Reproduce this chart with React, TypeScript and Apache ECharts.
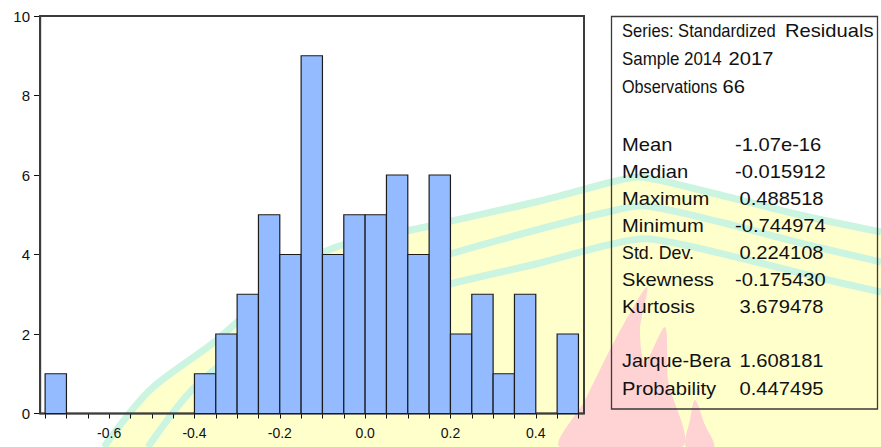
import React, { useEffect, useRef } from "react";
import * as echarts from "echarts";

// ---- data ----
const binLower = [
  -0.75, -0.7, -0.65, -0.6, -0.55, -0.5, -0.45, -0.4, -0.35, -0.3, -0.25, -0.2, -0.15,
  -0.1, -0.05, 0.0, 0.05, 0.1, 0.15, 0.2, 0.25, 0.3, 0.35, 0.4, 0.45,
];
const binCounts = [1, 0, 0, 0, 0, 0, 0, 1, 2, 3, 5, 4, 9, 4, 5, 5, 6, 4, 6, 2, 3, 1, 3, 0, 2];
const binWidth = 0.05;

const xTickValues = [
  -0.75, -0.7, -0.65, -0.6, -0.55, -0.5, -0.45, -0.4, -0.35, -0.3, -0.25, -0.2, -0.15,
  -0.1, -0.05, 0.0, 0.05, 0.1, 0.15, 0.2, 0.25, 0.3, 0.35, 0.4, 0.45, 0.5,
];
const xLabelValues = [-0.6, -0.4, -0.2, 0.0, 0.2, 0.4];

const headerSeries = ["Series: Standardized", "Residuals"];
const headerSample = ["Sample 2014", "2017"];
const headerObs = ["Observations", "66"];

const statLabels = ["Mean", "Median", "Maximum", "Minimum", "Std. Dev.", "Skewness", "Kurtosis"];
const statValues = ["-1.07e-16", "-0.015912", "0.488518", "-0.744974", "0.224108", "-0.175430", "3.679478"];
const testLabels = ["Jarque-Bera", "Probability"];
const testValues = ["1.608181", "0.447495"];

// ---- watermark shapes (decoration) ----
const band1 = [[104, 447], [150, 390], [213, 343], [320, 254], [430, 226], [540, 201], [612, 182], [640, 177], [700, 190], [800, 215], [881, 232]];
const band2 = [[148, 447], [194, 388], [280, 322], [380, 277], [450, 254], [540, 229], [612, 211], [645, 206], [720, 222], [800, 243], [881, 262]];
const band3 = [[240, 400], [300, 350], [380, 305], [450, 284], [540, 263], [612, 244], [650, 239], [740, 258], [820, 278], [881, 292]];
const flame1 = [[560, 447], [585, 400], [615, 340], [647, 287], [640, 330], [645, 362], [665, 327], [668, 380], [682, 447]];
const flame2 = [[686, 447], [690, 420], [695, 400], [705, 425], [714, 447]];

const FONT = '"Liberation Sans", Arial, Helvetica, sans-serif';

export default function App() {
  const ref = useRef<HTMLDivElement>(null);
  useEffect(() => {
    if (!ref.current) return;
    const chart = echarts.init(ref.current, null, { renderer: "svg" });

    const data = binLower.map((lo, i) => [lo, lo + binWidth, binCounts[i]]);

    const wideScale = 1.12;
    const narrowScale = 0.92;
    const txt = (text: string, x: number, y: number, scale: number) => ({
      type: "text",
      x,
      y,
      scaleX: scale,
      z: 100,
      style: {
        text,
        x: 0,
        y: 0,
        fontFamily: FONT,
        fontSize: 18,
        fill: "#111",
        verticalAlign: "middle",
        align: "left",
      },
    });

    const rowY = [145, 172, 199, 226, 253, 280, 307];
    const testY = [361, 389];
    const valX = (v: string) => (v.startsWith("-") ? 735 : 739.5);

    const graphics: any[] = [
      // watermark
      {
        type: "polygon",
        z: -10,
        shape: { points: [...band1, [881, 447]] },
        style: { fill: "#FFFFCC" },
        silent: true,
      },
      ...[band1, band2, band3].map((pts) => ({
        type: "polyline",
        z: -9,
        shape: { points: pts, smooth: 0.3 },
        style: { stroke: "#CBF5E0", lineWidth: 7, fill: null },
        silent: true,
      })),
      ...[flame1, flame2].map((pts) => ({
        type: "polygon",
        z: -8,
        shape: { points: pts, smooth: 0.3 },
        style: { fill: "#FFD3D3" },
        silent: true,
      })),
      // stats box
      {
        type: "rect",
        z: 99,
        shape: { x: 611.5, y: 16.5, width: 266, height: 392.5 },
        style: { fill: null, stroke: "#3a3a3a", lineWidth: 1.3 },
        silent: true,
      },
      txt(headerSeries[0], 622, 31, narrowScale),
      txt(headerSeries[1], 785, 31, wideScale),
      txt(headerSample[0], 622, 59, narrowScale + 0.02),
      txt(headerSample[1], 728.5, 59, wideScale),
      txt(headerObs[0], 622, 87, narrowScale - 0.02),
      txt(headerObs[1], 722.5, 87, wideScale),
      ...statLabels.map((l, i) => txt(l, 622, rowY[i], l === "Std. Dev." ? 0.99 : wideScale)),
      ...statValues.map((v, i) => txt(v, valX(v), rowY[i], wideScale)),
      ...testLabels.map((l, i) => txt(l, 622, testY[i], l === "Jarque-Bera" ? 1.1 : wideScale)),
      ...testValues.map((v, i) => txt(v, valX(v), testY[i], wideScale)),
    ];

    chart.setOption({
      animation: false,
      backgroundColor: "#ffffff",
      grid: {
        left: 40,
        top: 16,
        right: 297,
        bottom: 33.5,
        show: true,
        borderColor: "#3c3c3c",
        borderWidth: 2,
        backgroundColor: "transparent",
        z: 1,
      },
      xAxis: {
        type: "value",
        min: -0.762,
        max: 0.513,
        splitLine: { show: false },
        axisLine: { show: true, onZero: false, lineStyle: { color: "#111", width: 1.3 } },
        axisTick: {
          show: true,
          inside: false,
          length: 5,
          customValues: xTickValues,
          lineStyle: { color: "#111", width: 1 },
        },
        axisLabel: {
          show: true,
          customValues: xLabelValues,
          formatter: (v: number) => v.toFixed(1),
          fontFamily: FONT,
          fontSize: 14,
          color: "#111",
          margin: 12,
        },
      },
      yAxis: {
        type: "value",
        min: 0,
        max: 10,
        interval: 2,
        splitLine: { show: false },
        axisLine: { show: true, onZero: false, lineStyle: { color: "#111", width: 1.3 } },
        axisTick: { show: true, inside: false, length: 6, lineStyle: { color: "#111", width: 1 } },
        axisLabel: {
          fontFamily: FONT,
          fontSize: 15,
          color: "#111",
          margin: 10,
        },
      },
      graphic: { elements: graphics },
      series: [
        {
          type: "custom",
          z: 3,
          data,
          encode: { x: [0, 1], y: 2 },
          renderItem: (params: any, api: any) => {
            const lo = api.value(0);
            const hi = api.value(1);
            const cnt = api.value(2);
            if (!cnt) return null;
            const p0 = api.coord([lo, cnt]);
            const p1 = api.coord([hi, 0]);
            return {
              type: "rect",
              shape: { x: p0[0], y: p0[1], width: p1[0] - p0[0], height: p1[1] - p0[1] },
              style: { fill: "#94BAFF", stroke: "#1c1c1c", lineWidth: 1.2 },
            };
          },
        },
      ],
    });

    return () => chart.dispose();
  }, []);

  return (
    <div
      ref={ref}
      style={{ position: "absolute", left: 0, top: 0, width: 881, height: 447 }}
    />
  );
}
